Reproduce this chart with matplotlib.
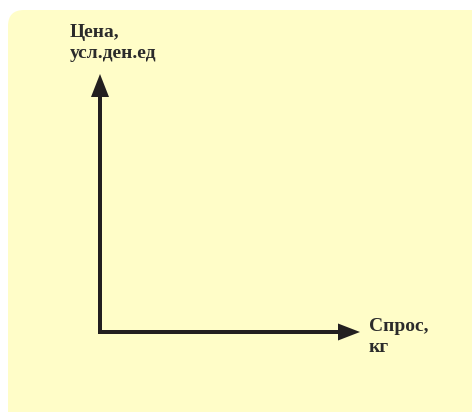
import matplotlib
matplotlib.use('Agg')
import matplotlib.pyplot as plt
from matplotlib.patches import FancyBboxPatch, FancyArrow

# axis labels and extent of the sketch (in pixel-ish units)
y_label = ['Цена,', 'усл.ден.ед']
x_label = ['Спрос,', 'кг']
origin = (100, 332)
x_end = 360
y_end = 74

bg = '#FFFDC8'
ink = '#231F20'

fig = plt.figure(figsize=(4.72, 4.12), dpi=100)
ax = fig.add_axes([0, 0, 1, 1])
ax.set_xlim(0, 472)
ax.set_ylim(412, 0)
ax.axis('off')

box = FancyBboxPatch((8, 10), 480, 420, boxstyle='round,pad=0,rounding_size=16',
                     facecolor=bg, edgecolor='none')
ax.add_patch(box)

# axes arrows
ax.add_patch(FancyArrow(origin[0], origin[1] + 2, 0, y_end - origin[1] - 2, width=4,
                        head_width=18, head_length=23, length_includes_head=True,
                        color=ink, linewidth=0))
ax.add_patch(FancyArrow(origin[0] - 2, origin[1], x_end - origin[0] + 2, 0, width=4,
                        head_width=17, head_length=22, length_includes_head=True,
                        color=ink, linewidth=0))

font = dict(family='Liberation Serif', weight='bold', size=14, color='#2B2B2B')
ax.text(70, 37, y_label[0], ha='left', va='baseline', **font)
ax.text(70, 58, y_label[1], ha='left', va='baseline', **font)
ax.text(369, 331, x_label[0], ha='left', va='baseline', **font)
ax.text(369, 352, x_label[1], ha='left', va='baseline', **font)

fig.savefig('out.png', dpi=100, facecolor='white')
